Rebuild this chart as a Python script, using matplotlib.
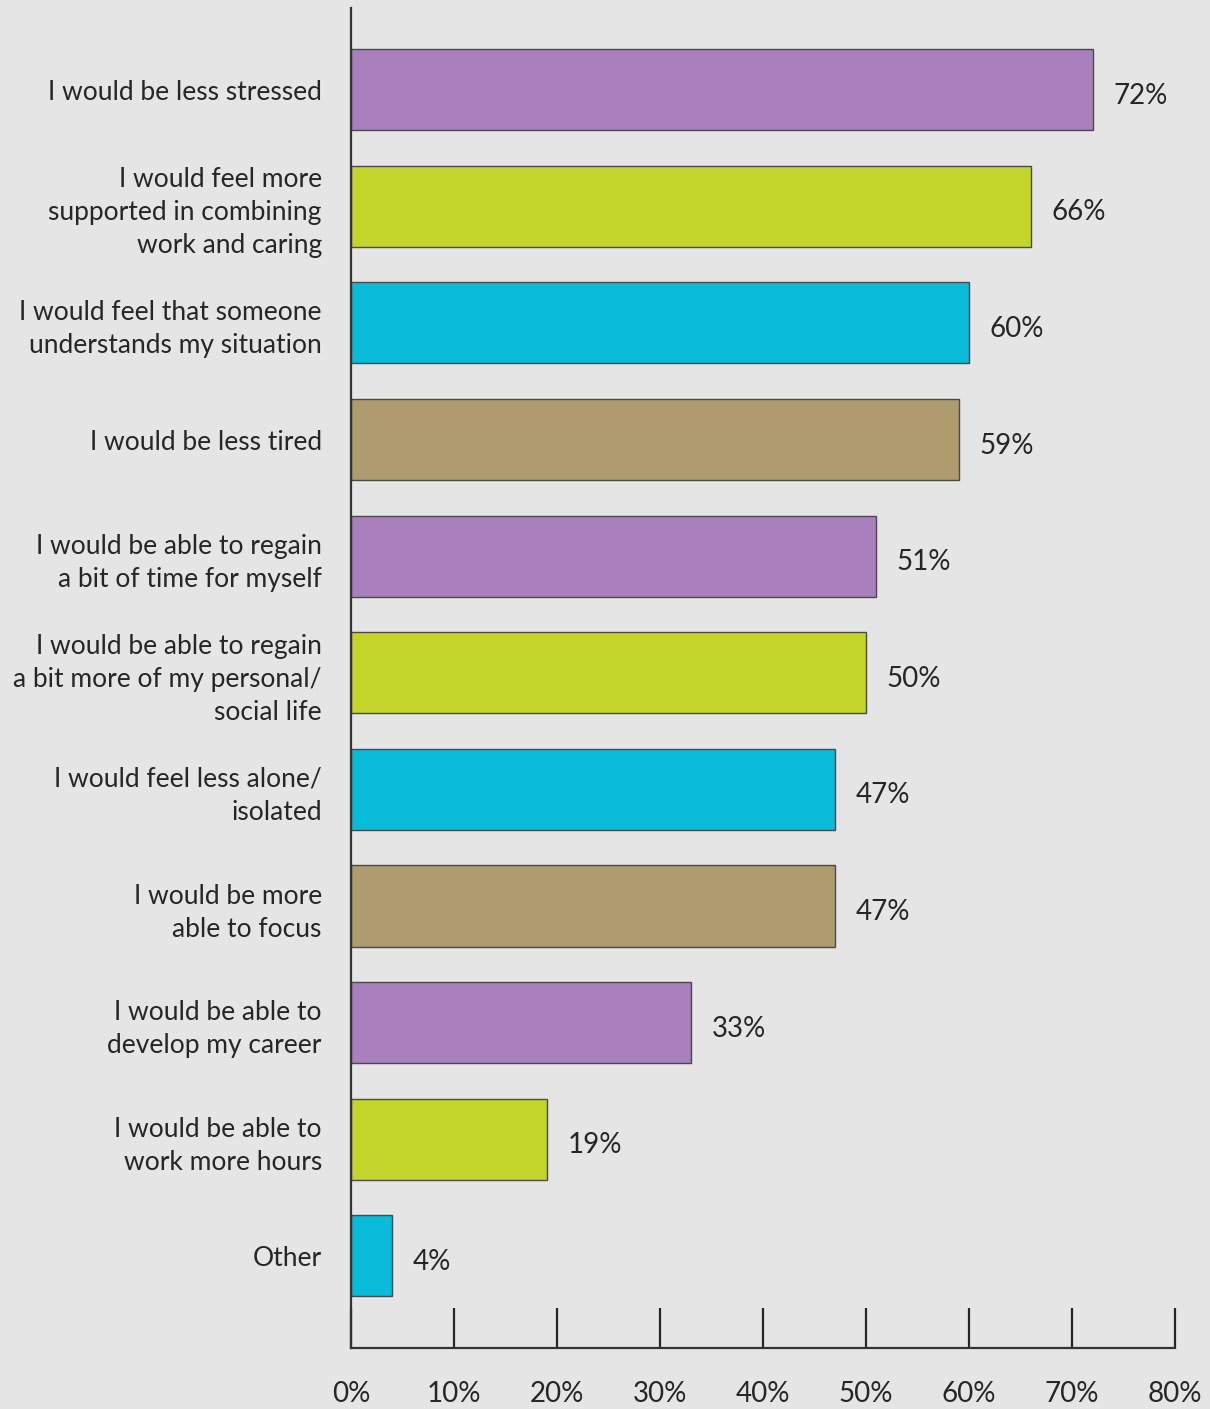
import matplotlib.pyplot as plt
import numpy as np

plt.rcParams["font.family"] = ["Lato", "DejaVu Sans"]
plt.rcParams["font.size"] = 19

labels = [
    "I would be less stressed",
    "I would feel more\nsupported in combining\nwork and caring",
    "I would feel that someone\nunderstands my situation",
    "I would be less tired",
    "I would be able to regain\na bit of time for myself",
    "I would be able to regain\na bit more of my personal/\nsocial life",
    "I would feel less alone/\nisolated",
    "I would be more\nable to focus",
    "I would be able to\ndevelop my career",
    "I would be able to\nwork more hours",
    "Other",
]
values = [72, 66, 60, 59, 51, 50, 47, 47, 33, 19, 4]
ticks = [0, 10, 20, 30, 40, 50, 60, 70, 80]
palette = ["#AA7FBD", "#C3D52B", "#08BBD9", "#AE9C6E"]

bg = "#E5E5E5"
ink = "#262626"

fig = plt.figure(figsize=(12.1, 14.09), dpi=100, facecolor=bg)
ax = fig.add_axes([0.2901, 0.0433, 0.681, 0.951])
ax.set_facecolor(bg)

y = np.arange(len(values))
colors = [palette[i % 4] for i in range(len(values))]
ax.barh(y, values, height=0.695, color=colors, edgecolor="#4a4a4a",
        linewidth=1.0, zorder=2)

# value labels just past the end of each bar
for yi, v in zip(y, values):
    ax.text(v + 2.0, yi + 0.03, f"{v}%", ha="left", va="center_baseline",
            color=ink, fontsize=20)

ax.set_ylim(len(values) - 1 + 0.79, -0.70)
ax.set_xlim(0, 80)

ax.set_yticks(y)
ax.set_yticklabels(labels, ha="right", linespacing=1.4)
ax.tick_params(axis="y", length=0, pad=21, colors=ink)

ax.set_xticks(ticks)
ax.set_xticklabels([f"{t}%" for t in ticks])
ax.tick_params(axis="x", direction="in", length=29, width=1.6, pad=24,
               color="#262626", labelcolor=ink, labelsize=20)

for s in ["top", "right"]:
    ax.spines[s].set_visible(False)
for s in ["left", "bottom"]:
    ax.spines[s].set_color("#333333")
    ax.spines[s].set_linewidth(1.6)

fig.savefig("out.png", dpi=100, facecolor=bg)
